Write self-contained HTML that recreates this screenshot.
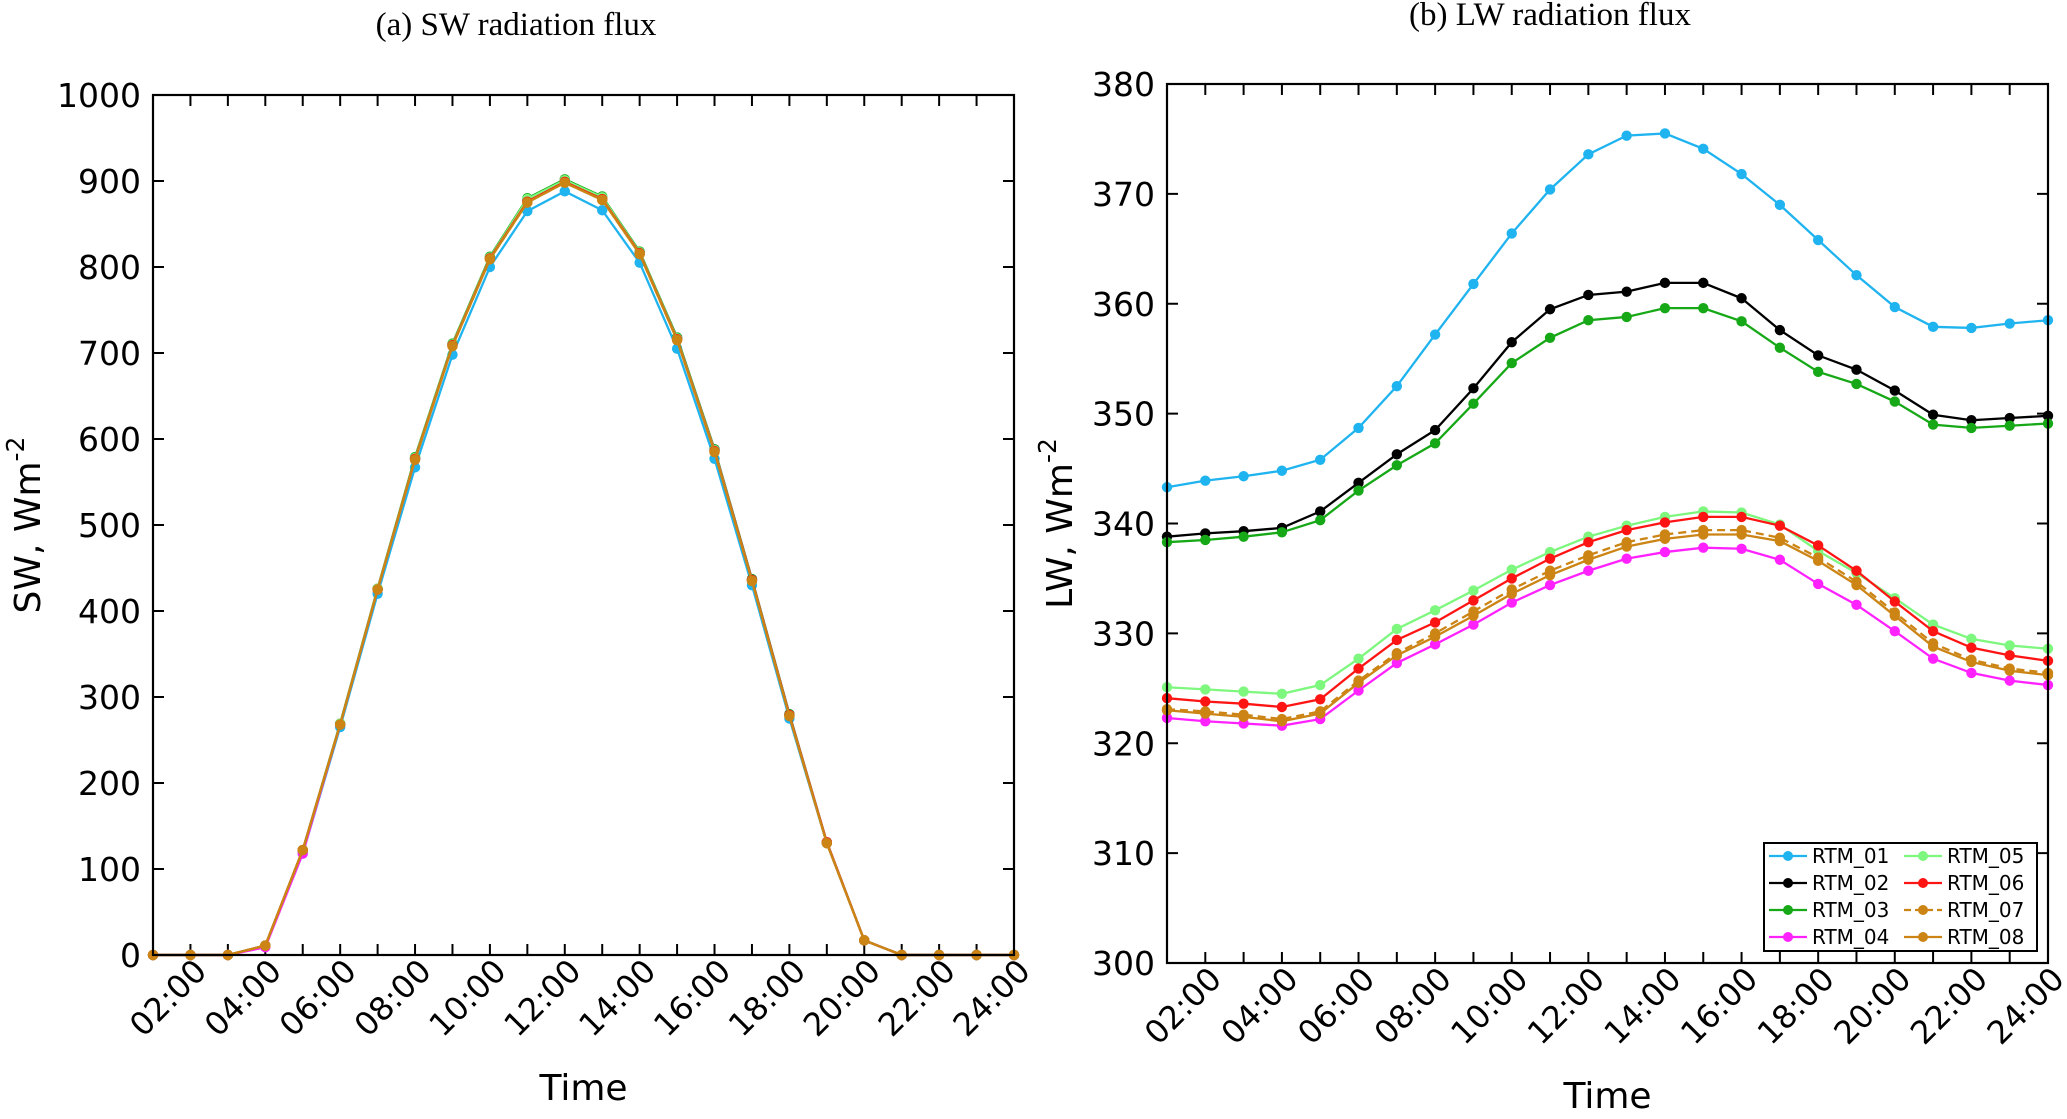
<!DOCTYPE html>
<html><head><meta charset="utf-8"><style>
body{margin:0;background:#fff}
svg text{font-family:"DejaVu Sans","Liberation Sans",sans-serif}
</style></head><body>
<svg id="c" width="2067" height="1114" viewBox="0 0 2067 1114" xmlns="http://www.w3.org/2000/svg">
<rect width="2067" height="1114" fill="#fff"/>
</svg>
<script>
const hours = [1,2,3,4,5,6,7,8,9,10,11,12,13,14,15,16,17,18,19,20,21,22,23,24];
const xTickLabels = ["02:00","04:00","06:00","08:00","10:00","12:00","14:00","16:00","18:00","20:00","22:00","24:00"];
const swTicks = [0,100,200,300,400,500,600,700,800,900,1000];
const lwTicks = [300,310,320,330,340,350,360,370,380];
const seriesNames = ["RTM_01","RTM_02","RTM_03","RTM_04","RTM_05","RTM_06","RTM_07","RTM_08"];
const seriesColors = ["#1fb3ef","#000000","#16a816","#ff22ff","#7ef77e","#ff1414","#cc8414","#cc8414"];
const sw01 = [0,0,0,10,118,265,420,567,698,800,865,888,866,805,705,577,430,275,130,17,0,0,0,0];
const sw02 = [0,0,0,11,122,269,426,578,710,810,878,900,880,817,718,588,437,280,131,17,0,0,0,0];
const sw03 = [0,0,0,11,122,269,426,579,711,812,880,902,882,818,718,588,437,280,131,17,0,0,0,0];
const sw04 = [0,0,0,9,118,268,425,576,709,810,877,899,879,816,716,587,436,279,131,17,0,0,0,0];
const sw05 = [0,0,0,11,122,269,426,578,710,811,879,901,881,817,717,587,436,279,131,17,0,0,0,0];
const sw06 = [0,0,0,11,122,268,425,577,709,810,876,899,879,816,716,586,436,279,131,17,0,0,0,0];
const sw07 = [0,0,0,11,122,268,425,576,708,809,875,898,878,815,715,585,435,278,130,17,0,0,0,0];
const sw08 = [0,0,0,11,122,268,425,576,708,809,875,898,878,815,715,585,435,278,130,17,0,0,0,0];
const lw01 = [343.3,343.9,344.3,344.8,345.8,348.7,352.5,357.2,361.8,366.4,370.4,373.6,375.3,375.5,374.1,371.8,369.0,365.8,362.6,359.7,357.9,357.8,358.2,358.5];
const lw02 = [338.8,339.1,339.3,339.6,341.1,343.7,346.3,348.5,352.3,356.5,359.5,360.8,361.1,361.9,361.9,360.5,357.6,355.3,354.0,352.1,349.9,349.4,349.6,349.8];
const lw03 = [338.3,338.5,338.8,339.2,340.3,343.0,345.3,347.3,350.9,354.6,356.9,358.5,358.8,359.6,359.6,358.4,356.0,353.8,352.7,351.1,349.0,348.7,348.9,349.1];
const lw04 = [322.3,322.0,321.8,321.6,322.2,324.8,327.3,329.0,330.8,332.8,334.4,335.7,336.8,337.4,337.8,337.7,336.7,334.5,332.6,330.2,327.7,326.4,325.7,325.3];
const lw05 = [325.1,324.9,324.7,324.5,325.3,327.7,330.4,332.1,333.9,335.8,337.4,338.8,339.8,340.6,341.1,341.0,339.9,337.5,335.5,333.2,330.8,329.5,328.9,328.6];
const lw06 = [324.1,323.8,323.6,323.3,324.0,326.8,329.4,331.0,333.0,335.0,336.8,338.3,339.4,340.1,340.6,340.6,339.8,338.0,335.7,332.9,330.2,328.7,328.0,327.5];
const lw07 = [323.1,322.9,322.6,322.2,322.9,325.7,328.2,330.0,332.0,334.0,335.7,337.1,338.3,339.0,339.4,339.4,338.7,336.9,334.7,331.9,329.1,327.6,326.8,326.4];
const lw08 = [323.0,322.7,322.4,322.0,322.7,325.5,328.0,329.7,331.6,333.6,335.3,336.7,337.9,338.6,339.0,339.0,338.4,336.6,334.4,331.6,328.8,327.4,326.6,326.2];
const swSeries = [sw01,sw02,sw03,sw04,sw05,sw06,sw07,sw08];
const lwSeries = [lw01,lw02,lw03,lw04,lw05,lw06,lw07,lw08];

const NS = "http://www.w3.org/2000/svg";
const svg = document.getElementById('c');
function mk(tag, attrs, parent){const e=document.createElementNS(NS,tag);for(const k in attrs)e.setAttribute(k,attrs[k]);(parent||svg).appendChild(e);return e;}

function panel(cfg){
  const g = mk('g',{});
  
  
  const {x0,x1,y0,y1,ymin,ymax} = cfg;
  const sx = h => x0 + (h-1)/(23)*(x1-x0);
  const sy = v => y1 - (v-ymin)/(ymax-ymin)*(y1-y0);
  const t = mk('text',{x:cfg.titleX,y:cfg.titleY,'text-anchor':'middle','font-size':33,style:'font-family:"Liberation Serif",serif'},g);
  t.textContent = cfg.title;
  
  
  cfg.yticks.forEach(v=>{
    const y = sy(v);
    mk('line',{x1:x0,x2:x0+11,y1:y,y2:y,stroke:'#000','stroke-width':2},g);
    mk('line',{x1:x1,x2:x1-11,y1:y,y2:y,stroke:'#000','stroke-width':2},g);
    const lb = mk('text',{x:x0-12,y:y+12,'text-anchor':'end','font-size':33},g);
    lb.textContent = v;
    
    
  });
  hours.forEach(h=>{
    const x = sx(h);
    mk('line',{x1:x,x2:x,y1:y1,y2:y1-11,stroke:'#000','stroke-width':2},g);
    mk('line',{x1:x,x2:x,y1:y0,y2:y0+11,stroke:'#000','stroke-width':2},g);
  });
  xTickLabels.forEach((s,i)=>{
    const x = sx((i+1)*2);
    const lb = mk('text',{x:0,y:0,'text-anchor':'end','font-size':32,transform:`translate(${x+18},${y1+18}) rotate(-45)`},g);
    lb.textContent = s;
    
    
  });
  const xt = mk('text',{x:(x0+x1)/2,y:cfg.xtY,'text-anchor':'middle','font-size':36},g);
  xt.textContent = 'Time';
  
  
  const yt = mk('text',{x:0,y:0,'text-anchor':'middle','font-size':36,transform:`translate(${cfg.ytX},${(y0+y1)/2}) rotate(-90)`},g);
  yt.innerHTML = cfg.ylab + ', Wm<tspan dy="-16" font-size="25">-2</tspan>';
  
  
  cfg.series.forEach((arr,si)=>{
    const sg = mk('g',{},g);
    
    
    const pts = arr.map((v,i)=>sx(hours[i])+','+sy(v)).join(' ');
    mk('polyline',{points:pts,fill:'none',stroke:seriesColors[si],'stroke-width':2.3,'stroke-dasharray':si===6?'8,5':'none'},sg);
    arr.forEach((v,i)=>{ mk('circle',{cx:sx(hours[i]),cy:sy(v),r:5.2,fill:seriesColors[si]},sg); });
  });
  mk('rect',{x:x0,y:y0,width:x1-x0,height:y1-y0,fill:'none',stroke:'#000','stroke-width':2.2},g);
  return g;
}

panel({name:'sw-panel',x0:153,x1:1014,y0:95,y1:955,ymin:0,ymax:1000,yticks:swTicks,series:swSeries,
  title:'(a) SW radiation flux',titleX:516,titleY:35,xtY:1100,ytX:40,ylab:'SW'});
panel({name:'lw-panel',x0:1167,x1:2048,y0:84,y1:963,ymin:300,ymax:380,yticks:lwTicks,series:lwSeries,
  title:'(b) LW radiation flux',titleX:1550,titleY:25,xtY:1108,ytX:1072,ylab:'LW'});

const lg = mk('g',{});


mk('rect',{x:1764,y:843,width:273,height:108,fill:'#fff',stroke:'#000','stroke-width':2},lg);
seriesNames.forEach((n,i)=>{
  const col = Math.floor(i/4), row = i%4;
  const lx = col===0?1769:1904, y = 856+row*27;
  const e = mk('g',{},lg);
  
  
  mk('line',{x1:lx,x2:lx+38,y1:y,y2:y,stroke:seriesColors[i],'stroke-width':2.2,'stroke-dasharray':i===6?'7,4':'none'},e);
  mk('circle',{cx:lx+19,cy:y,r:5,fill:seriesColors[i]},e);
  const t = mk('text',{x:lx+43,y:y+7,'font-size':20},e);
  t.textContent = n;
});
</script>
</body></html>
